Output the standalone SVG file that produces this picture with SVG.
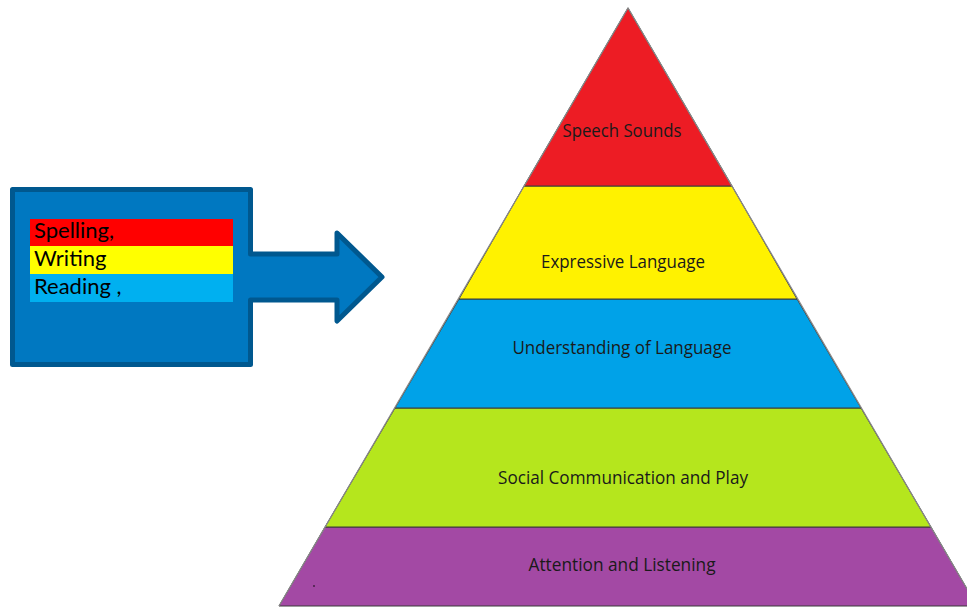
<svg xmlns="http://www.w3.org/2000/svg" width="967" height="608" viewBox="0 0 967 608">
  <style>
    .band { stroke: #3a3a3a; stroke-width: 1; }
    .edge { fill: none; stroke: #8a8a8a; stroke-width: 1.2; }
    .lvl { font-family: "Open Sans", "Noto Sans", sans-serif; font-size: 18px; fill: #1a1a1a; text-anchor: middle; }
    .item { font-family: Lato, "Noto Sans", sans-serif; font-size: 22px; fill: #000; }
  </style>
  <rect width="967" height="608" fill="#ffffff"/>

  <!-- skill box with arrow pointing to the pyramid -->
  <g id="skills">
    <path d="M12.5,189.5 H250.5 V254 H337 V233 L382,277 L337,321 V300 H250.5 V364.5 H12.5 Z"
          fill="#0078C1" stroke="#00588F" stroke-width="5" stroke-linejoin="round"/>
    <rect x="30" y="219" width="203" height="27" fill="#FF0000"/>
    <rect x="30" y="246" width="203" height="28" fill="#FFFF00"/>
    <rect x="30" y="274" width="203" height="28" fill="#00B0F0"/>
    <text class="item" x="34" y="238">Spelling,</text>
    <text class="item" x="34" y="266">Writing</text>
    <text class="item" x="34" y="294">Reading ,</text>
  </g>

  <!-- pyramid levels, bottom to top -->
  <g id="attention">
    <polygon class="band" points="325,527 931,527 977,606 279,606" fill="#A349A4"/>
    <text class="lvl" x="622" y="571" textLength="187" lengthAdjust="spacingAndGlyphs">Attention and Listening</text>
    <circle cx="314" cy="586" r="0.9" fill="#3a1a3a"/>
  </g>
  <g id="social">
    <polygon class="band" points="395,408 861,408 931,527 325,527" fill="#B5E61D"/>
    <text class="lvl" x="623" y="484" textLength="250" lengthAdjust="spacingAndGlyphs">Social Communication and Play</text>
  </g>
  <g id="understanding">
    <polygon class="band" points="459,299 797,299 861,408 395,408" fill="#00A2E8"/>
    <text class="lvl" x="622" y="354" textLength="219" lengthAdjust="spacingAndGlyphs">Understanding of Language</text>
  </g>
  <g id="expressive">
    <polygon class="band" points="524,186 732,186 797,299 459,299" fill="#FFF200"/>
    <text class="lvl" x="623" y="268" textLength="164" lengthAdjust="spacingAndGlyphs">Expressive Language</text>
  </g>
  <g id="speech">
    <polygon class="band" points="628,8 732,186 524,186" fill="#ED1C24"/>
    <text class="lvl" x="622" y="137" textLength="119" lengthAdjust="spacingAndGlyphs">Speech Sounds</text>
  </g>

  <!-- outer outline of the pyramid -->
  <polyline class="edge" points="279,606 628,8 977,606"/>
</svg>
